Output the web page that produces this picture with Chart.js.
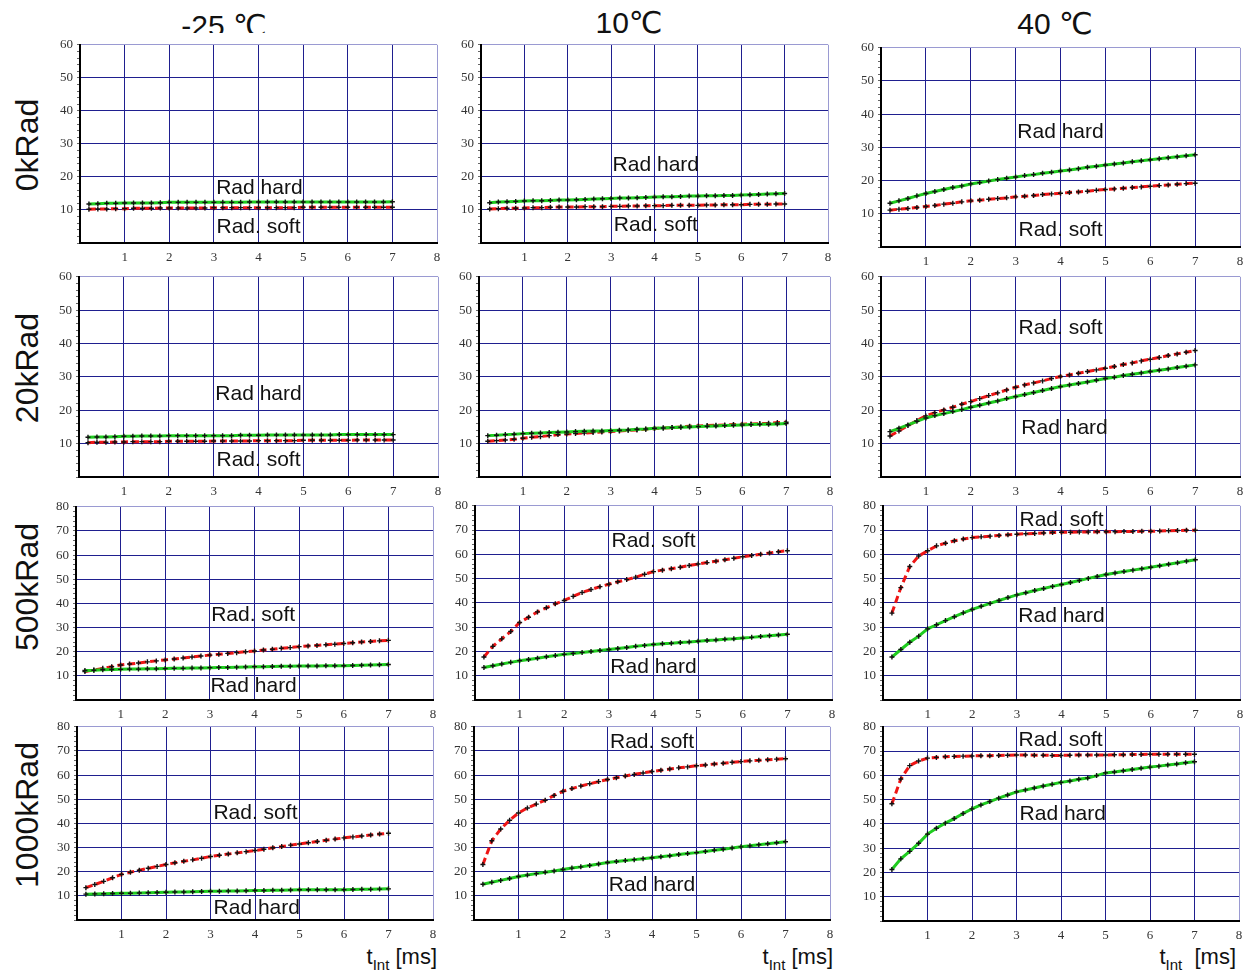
<!DOCTYPE html>
<html><head><meta charset="utf-8">
<script src="https://cdn.jsdelivr.net/npm/chart.js@4/dist/chart.umd.min.js"></script>
<style>
body{margin:0;background:#fff;width:1249px;height:974px;position:relative;overflow:hidden;font-family:"Liberation Sans",Arial,"DejaVu Sans",sans-serif;color:#111;}
canvas{position:absolute;}
.ttl{position:absolute;font-size:30px;line-height:30px;white-space:nowrap;transform:translateX(-50%);}
.clip{position:absolute;left:0;top:0;width:1249px;height:33px;overflow:hidden;}
.row{position:absolute;font-size:32px;line-height:32px;width:240px;text-align:center;white-space:nowrap;transform:translate(-50%,-50%) rotate(-90deg);}
.tl{position:absolute;font-size:22px;line-height:22px;white-space:nowrap;}
.tl sub{font-size:15px;vertical-align:-6px;line-height:0;}
</style></head><body>
<div class="clip"><div class="ttl" style="left:224px;top:11px;">-25 ℃</div></div>
<div class="ttl" style="left:629px;top:8px;">10℃</div>
<div class="ttl" style="left:1055px;top:9px;">40 ℃</div>
<div class="row" style="left:27px;top:145px;">0kRad</div>
<div class="row" style="left:27px;top:368px;">20kRad</div>
<div class="row" style="left:27px;top:587px;">500kRad</div>
<div class="row" style="left:27px;top:815px;">1000kRad</div>
<div class="tl" style="right:812px;top:946px;">t<sub>Int</sub> [ms]</div>
<div class="tl" style="right:416px;top:946px;">t<sub>Int</sub> [ms]</div>
<div class="tl" style="right:13px;top:946px;">t<sub>Int</sub>&nbsp; [ms]</div>
<script>
// ---- data ----
const temperatures = ['-25 ℃', '10℃', '40 ℃'];
const doses = ['0kRad', '20kRad', '500kRad', '1000kRad'];
const xTickLabels = ['1','2','3','4','5','6','7','8'];
const yMaxByDose = [60, 60, 80, 80];
const xs = [0.2,0.4,0.6,0.8,1.0, 1.2,1.4,1.6,1.8,2.0, 2.2,2.4,2.6,2.8,3.0, 3.2,3.4,3.6,3.8,4.0,
            4.2,4.4,4.6,4.8,5.0, 5.2,5.4,5.6,5.8,6.0, 6.2,6.4,6.6,6.8,7.0];

// 0 kRad
const hard_m25_0k = [11.8,11.9,12.0,12.0,12.1, 12.1,12.1,12.1,12.2,12.3, 12.3,12.3,12.3,12.3,12.3, 12.3,12.3,12.3,12.4,12.4, 12.4,12.4,12.4,12.4,12.4, 12.4,12.4,12.4,12.4,12.4, 12.4,12.4,12.4,12.4,12.5];
const soft_m25_0k = [10.2,10.3,10.3,10.4,10.4, 10.5,10.5,10.5,10.6,10.6, 10.6,10.6,10.6,10.6,10.7, 10.7,10.7,10.7,10.7,10.7, 10.7,10.7,10.7,10.7,10.8, 10.8,10.8,10.8,10.8,10.8, 10.8,10.8,10.8,10.8,10.8];
const hard_10_0k = [12.2,12.4,12.5,12.6,12.7, 12.8,12.8,12.9,13.0,13.0, 13.1,13.2,13.3,13.4,13.5, 13.6,13.6,13.7,13.8,13.9, 14.0,14.0,14.1,14.2,14.2, 14.3,14.3,14.4,14.4,14.5, 14.6,14.7,14.8,14.9,15.0];
const soft_10_0k = [10.3,10.4,10.5,10.5,10.6, 10.7,10.7,10.8,10.9,10.9, 10.9,11.0,11.0,11.0,11.1, 11.1,11.2,11.2,11.3,11.3, 11.3,11.4,11.4,11.4,11.4, 11.5,11.5,11.6,11.6,11.6, 11.7,11.7,11.7,11.8,11.8];
const hard_40_0k = [13.2,13.9,14.6,15.4,16.1, 16.7,17.3,17.9,18.4,19.0, 19.4,19.9,20.3,20.7,21.1, 21.5,21.8,22.2,22.5,22.9, 23.2,23.6,24.0,24.3,24.7, 25.0,25.3,25.7,26.0,26.3, 26.6,26.9,27.2,27.5,27.8];
const soft_40_0k = [11.1,11.4,11.6,11.9,12.2, 12.5,12.9,13.2,13.6,13.9, 14.1,14.4,14.6,14.8,15.1, 15.3,15.5,15.8,16.0,16.2, 16.4,16.6,16.8,17.1,17.3, 17.5,17.7,17.9,18.1,18.3, 18.5,18.7,18.9,19.1,19.2];
// 20 kRad
const hard_m25_20k = [11.9,12.0,12.0,12.1,12.2, 12.2,12.3,12.3,12.3,12.4, 12.4,12.4,12.4,12.4,12.4, 12.4,12.4,12.5,12.5,12.5, 12.6,12.6,12.6,12.6,12.6, 12.6,12.6,12.6,12.7,12.7, 12.7,12.7,12.7,12.7,12.7];
const soft_m25_20k = [10.3,10.4,10.4,10.5,10.5, 10.6,10.6,10.6,10.6,10.7, 10.7,10.7,10.7,10.7,10.8, 10.8,10.8,10.8,10.8,10.9, 10.9,10.9,10.9,10.9,11.0, 11.0,11.0,11.0,11.0,11.0, 11.1,11.1,11.1,11.1,11.1];
const hard_10_20k = [12.4,12.5,12.7,12.8,13.0, 13.1,13.2,13.3,13.4,13.5, 13.6,13.7,13.8,13.8,13.9, 14.0,14.1,14.3,14.4,14.6, 14.7,14.8,14.9,15.0,15.1, 15.2,15.3,15.4,15.5,15.6, 15.7,15.8,15.8,15.9,16.0];
const soft_10_20k = [10.7,10.9,11.1,11.3,11.6, 11.9,12.1,12.4,12.7,12.9, 13.0,13.2,13.3,13.5,13.6, 13.8,14.0,14.1,14.3,14.5, 14.7,14.8,15.0,15.2,15.3, 15.4,15.5,15.6,15.7,15.8, 15.9,16.0,16.1,16.3,16.4];
const hard_40_20k = [13.6,14.6,15.6,16.7,17.7, 18.4,19.0,19.6,20.2,20.9, 21.5,22.2,22.8,23.5,24.1, 24.7,25.3,25.9,26.5,27.1, 27.6,28.0,28.5,29.0,29.5, 29.9,30.4,30.8,31.2,31.6, 32.0,32.4,32.8,33.2,33.6];
const soft_40_20k = [12.3,13.8,15.4,16.9,18.3, 19.3,20.1,20.9,21.8,22.6, 23.5,24.4,25.2,26.1,26.9, 27.6,28.2,28.8,29.5,30.1, 30.6,31.1,31.6,32.1,32.6, 33.1,33.7,34.2,34.8,35.3, 35.8,36.4,36.9,37.4,37.9];
// 500 kRad
const hard_m25_500k = [12.2,12.3,12.5,12.6,12.7, 12.8,12.8,12.9,12.9,13.0, 13.1,13.1,13.2,13.3,13.4, 13.5,13.5,13.6,13.7,13.8, 13.8,13.9,14.0,14.0,14.1, 14.1,14.1,14.2,14.2,14.2, 14.3,14.4,14.5,14.6,14.7];
const soft_m25_500k = [11.8,12.4,13.1,13.8,14.5, 14.9,15.3,15.8,16.2,16.6, 17.0,17.4,17.8,18.2,18.6, 18.9,19.3,19.6,20.0,20.3, 20.7,21.0,21.4,21.7,22.1, 22.4,22.6,22.9,23.1,23.4, 23.7,24.0,24.2,24.5,24.7];
const hard_10_500k = [13.4,14.1,14.8,15.5,16.2, 16.7,17.2,17.8,18.3,18.8, 19.2,19.6,20.0,20.4,20.8, 21.2,21.6,22.1,22.5,22.9, 23.2,23.4,23.7,23.9,24.2, 24.5,24.7,25.0,25.2,25.5, 25.8,26.2,26.5,26.8,27.1];
const soft_10_500k = [17.7,22.1,25.2,28.2,31.9, 34.1,36.3,38.0,39.6,41.0, 42.7,44.3,45.5,46.7,47.7, 48.7,49.6,50.6,51.8,52.9, 53.5,54.1,54.7,55.4,56.0, 56.6,57.2,57.8,58.4,59.0, 59.5,60.0,60.6,61.1,61.5];
const hard_40_500k = [17.7,20.8,23.8,26.3,29.3, 31.0,32.7,34.3,35.9,37.3, 38.6,39.8,41.0,42.2,43.3, 44.2,45.1,45.9,46.8,47.6, 48.4,49.2,50.1,50.9,51.7, 52.3,52.9,53.5,54.1,54.7, 55.3,55.9,56.5,57.2,57.8];
const soft_40_500k = [35.8,46.3,55.0,59.3,61.5, 63.5,64.6,65.6,66.3,66.9, 67.2,67.5,67.8,68.1,68.3, 68.5,68.6,68.8,69.0,69.1, 69.1,69.2,69.2,69.3,69.3, 69.3,69.4,69.4,69.5,69.5, 69.6,69.7,69.8,69.9,69.9];
// 1000 kRad
const hard_m25_1000k = [10.7,10.8,10.9,11.0,11.1, 11.1,11.2,11.3,11.4,11.5, 11.6,11.6,11.7,11.8,11.9, 11.9,12.0,12.0,12.1,12.2, 12.2,12.3,12.3,12.4,12.5, 12.5,12.5,12.5,12.5,12.5, 12.6,12.7,12.7,12.8,12.9];
const soft_m25_1000k = [13.4,14.7,16.0,17.5,18.9, 19.8,20.6,21.4,22.2,23.0, 23.7,24.3,24.9,25.6,26.3, 26.8,27.3,27.8,28.3,28.8, 29.3,29.9,30.4,31.0,31.5, 32.0,32.5,33.0,33.5,34.0, 34.4,34.8,35.2,35.6,35.9];
const hard_10_1000k = [14.8,15.6,16.4,17.2,18.0, 18.6,19.2,19.8,20.3,20.9, 21.5,22.0,22.6,23.2,23.8, 24.2,24.6,25.0,25.4,25.8, 26.2,26.6,27.1,27.5,27.9, 28.4,28.9,29.3,29.8,30.3, 30.7,31.2,31.6,32.0,32.4];
const soft_10_1000k = [23.0,32.8,37.7,41.3,44.3, 46.4,48.0,49.6,51.6,53.3, 54.4,55.5,56.4,57.3,58.2, 58.9,59.6,60.3,60.9,61.5, 62.0,62.5,63.0,63.4,63.9, 64.2,64.6,64.9,65.3,65.6, 65.9,66.1,66.4,66.6,66.8];
const hard_40_1000k = [21.2,25.6,28.7,32.0,35.8, 38.2,40.3,42.2,44.3,46.2, 47.8,49.2,50.6,51.9,53.2, 54.0,54.8,55.6,56.3,57.1, 57.7,58.4,58.9,59.9,61.0, 61.4,61.9,62.4,62.9,63.4, 63.8,64.3,64.7,65.2,65.6];
const soft_40_1000k = [48.3,58.5,64.0,65.9,67.1, 67.4,67.7,67.8,67.9,68.0, 68.1,68.1,68.2,68.3,68.4, 68.4,68.3,68.3,68.2,68.2, 68.3,68.4,68.4,68.4,68.4, 68.5,68.5,68.6,68.6,68.7, 68.7,68.7,68.7,68.7,68.7];

// panel series table, rows = doses, cols = temperatures
const hardSeries = [
  [hard_m25_0k, hard_10_0k, hard_40_0k],
  [hard_m25_20k, hard_10_20k, hard_40_20k],
  [hard_m25_500k, hard_10_500k, hard_40_500k],
  [hard_m25_1000k, hard_10_1000k, hard_40_1000k]
];
const softSeries = [
  [soft_m25_0k, soft_10_0k, soft_40_0k],
  [soft_m25_20k, soft_10_20k, soft_40_20k],
  [soft_m25_500k, soft_10_500k, soft_40_500k],
  [soft_m25_1000k, soft_10_1000k, soft_40_1000k]
];
// annotation texts placed in data coordinates [text, x, y]
const notes = [
  [[['Rad hard',4.02,16.7],['Rad. soft',4.0,4.7]], [['Rad hard',4.03,23.6],['Rad. soft',4.03,5.3]], [['Rad hard',4.0,34.5],['Rad. soft',4.0,5.2]]],
  [[['Rad hard',4.0,24.8],['Rad. soft',4.0,5.0]], [], [['Rad. soft',4.0,44.6],['Rad hard',4.09,14.5]]],
  [[['Rad. soft',3.97,35],['Rad hard',3.98,5.6]], [['Rad. soft',4.0,65.3],['Rad hard',4.0,13.5]], [['Rad. soft',4.0,74.2],['Rad hard',4.0,34.7]]],
  [[['Rad. soft',4.01,44.4],['Rad hard',4.04,5.0]], [['Rad. soft',4.0,73.8],['Rad hard',4.0,14.3]], [['Rad. soft',3.99,74.3],['Rad hard',4.04,44]]]
];

// ---- layout (plot-area boxes in page pixels) ----
const boxes = [
  [{l:80,t:43,r:437,b:243},{l:481,t:43,r:828,b:243},{l:881,t:46,r:1240,b:247}],
  [{l:79,t:275,r:438,b:477},{l:479,t:275,r:830,b:477},{l:881,t:275,r:1240,b:477}],
  [{l:76,t:505,r:433,b:700},{l:475,t:504,r:832,b:700},{l:883,t:504,r:1240,b:700}],
  [{l:77,t:725,r:433,b:920},{l:474,t:725,r:830,b:920},{l:883,t:725,r:1239,b:921}]
];
const PADL=45, PADT=10, PADR=12, PADB=28;
const GRID='#1f1f8f', EDGE='#9a9ad2';

function makePanel(r, c){
  const b = boxes[r][c];
  const yMax = yMaxByDose[r];
  const cv = document.createElement('canvas');
  const w = b.r-b.l+PADL+PADR, h = b.b-b.t+PADT+PADB;
  cv.width = w; cv.height = h;
  cv.style.left = (b.l-PADL)+'px'; cv.style.top = (b.t-PADT)+'px';
  cv.style.width = w+'px'; cv.style.height = h+'px';
  document.body.appendChild(cv);
  const pts = arr => xs.map((x,i)=>({x:x, y:arr[i]}));
  const panelNotes = notes[r][c];
  new Chart(cv.getContext('2d'), {
    type:'line',
    data:{datasets:[
      {data:pts(hardSeries[r][c]), borderColor:'#1fcc1f', borderWidth:3, tension:0,
       pointStyle:'cross', pointRadius:2.5, pointBorderWidth:1.4, pointBorderColor:'#111', pointBackgroundColor:'#111'},
      {data:pts(softSeries[r][c]), borderColor:'#ee1515', borderWidth:3, borderDash:[7,4], tension:0,
       pointStyle:'cross', pointRadius:2.5, pointBorderWidth:1.4, pointBorderColor:'#111', pointBackgroundColor:'#111'}
    ]},
    options:{
      responsive:false, animation:false, devicePixelRatio:1,
      layout:{padding:{left:0, top:PADT, right:PADR, bottom:0}},
      plugins:{legend:{display:false}, tooltip:{enabled:false}},
      scales:{
        x:{type:'linear', min:0, max:8,
           ticks:{stepSize:1, autoSkip:false, maxRotation:0, padding:7, color:'#333',
                  font:{family:'Liberation Serif', size:13},
                  callback:v => v>=1 ? xTickLabels[v-1] : ''},
           grid:{drawTicks:false, lineWidth:1, color:ctx => ctx.tick.value===8 ? EDGE : GRID},
           border:{display:true, color:'#000', width:2},
           afterFit:s => { s.height = PADB; }},
        y:{type:'linear', min:0, max:yMax,
           ticks:{stepSize:2, autoSkip:false, padding:4, color:'#333',
                  font:{family:'Liberation Serif', size:13},
                  callback:v => (v%10===0 && v!==0) ? String(v) : ''},
           grid:{drawTicks:true, tickLength:3, tickColor:'#666', tickWidth:1, lineWidth:1,
                 color:ctx => { const v = ctx.tick.value; if (v===0 || v%10!==0) return 'rgba(0,0,0,0)'; return v===yMax ? EDGE : GRID; }},
           border:{display:true, color:'#000', width:2},
           afterFit:s => { s.width = PADL; }}
      }
    },
    plugins:[{id:'radText', afterDatasetsDraw(chart){
      const ctx = chart.ctx, sx = chart.scales.x, sy = chart.scales.y;
      ctx.save();
      ctx.font = '21px "Liberation Sans", Arial, sans-serif';
      ctx.fillStyle = '#111'; ctx.textAlign = 'center'; ctx.textBaseline = 'middle';
      panelNotes.forEach(n => ctx.fillText(n[0], sx.getPixelForValue(n[1]), sy.getPixelForValue(n[2])));
      ctx.restore();
    }}]
  });
}
for (let r=0; r<4; r++) for (let c=0; c<3; c++) makePanel(r, c);
</script>
</body></html>
